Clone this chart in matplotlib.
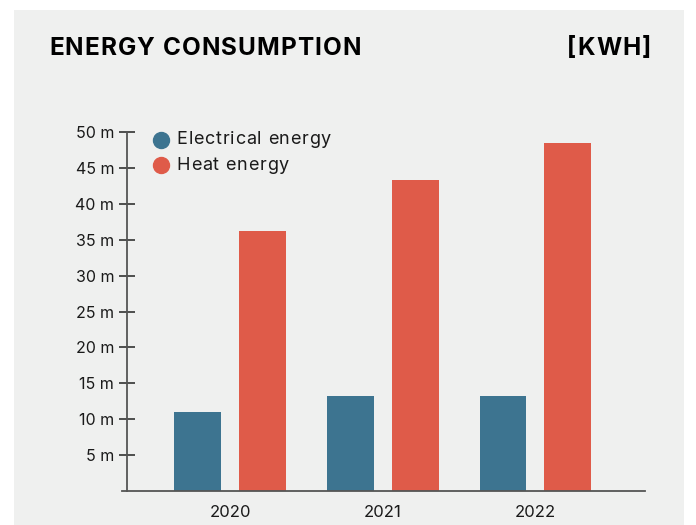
import matplotlib.pyplot as plt
from matplotlib.patches import Rectangle
import numpy as np

years = ['2020', '2021', '2022']
electrical = [11.0, 13.2, 13.2]
heat = [36.2, 43.3, 48.5]
yticks = [5, 10, 15, 20, 25, 30, 35, 40, 45, 50]
series_names = ['Electrical energy', 'Heat energy']

c_el = '#3d7490'
c_heat = '#df5b49'
bg = '#eff0ef'
ax_col = '#555555'
txt = '#1a1a1a'

plt.rcParams['font.family'] = ['Inter', 'DejaVu Sans']

W, H = 696, 525
fig = plt.figure(figsize=(W/100, H/100), dpi=100)
fig.patch.set_facecolor('white')
fig.patches.append(Rectangle((14/W, 0), (684-14)/W, (H-10)/H, transform=fig.transFigure,
                             facecolor=bg, edgecolor='none', zorder=-10))
renderer = fig.canvas.get_renderer()


def text_w(s, size, **kw):
    t = fig.text(0, 0, s, fontsize=size, **kw)
    w = t.get_window_extent(renderer).width
    t.remove()
    return w


def spaced_text(x0, y, s, size, track, right=False, **kw):
    # letters placed one by one (pixel coords from top-left) with extra tracking
    ref = text_w('I', size, **kw)
    pos = [0.0] + [text_w(s[:i] + 'I', size, **kw) - ref for i in range(1, len(s))]
    pos = [p + track * i for i, p in enumerate(pos)]
    total = text_w(s, size, **kw) + track * (len(s) - 1)
    start = x0 - total if right else x0
    for ch, p in zip(s, pos):
        if ch != ' ':
            fig.text((start + p)/W, 1 - y/H, ch, fontsize=size, va='center', ha='left', **kw)


ax = fig.add_axes([122/W, 34/H, (645-122)/W, (491-132)/H])
ax.set_facecolor('none')

x = np.arange(len(years))
bw = 0.308
off = 0.213
ax.bar(x - off, electrical, bw, color=c_el, zorder=2)
ax.bar(x + off, heat, bw, color=c_heat, zorder=2)

ax.set_xlim(-0.711, 2.718)
ax.set_ylim(0, 50)

for s in ['top', 'right']:
    ax.spines[s].set_visible(False)
ax.spines['bottom'].set_color(ax_col)
ax.spines['bottom'].set_linewidth(1.3)
ax.spines['left'].set_color(ax_col)
ax.spines['left'].set_linewidth(1.3)
ax.spines['left'].set_position(('data', -0.679))
ax.spines['left'].set_bounds(0, 50)

ax.set_yticks(yticks)
ax.set_yticklabels([f'{v} m' for v in yticks])
ax.tick_params(axis='y', direction='inout', length=12, width=1.1, color='#222222',
               labelsize=11.5, labelcolor=txt, pad=3.2)
ax.set_xticks(x)
ax.set_xticklabels(years)
ax.tick_params(axis='x', length=0, labelsize=12, labelcolor=txt, pad=10)

# legend drawn by hand
for i, (name, col) in enumerate(zip(series_names, [c_el, c_heat])):
    yy = 139.5 + 25.5 * i
    fig.lines.append(plt.Line2D([161/W], [1 - yy/H], marker='o', ls='none', color=col,
                                markersize=11.5, transform=fig.transFigure))
    spaced_text(176.5, yy, name, 13, 0.75, color=txt)

spaced_text(49, 48.5, 'ENERGY CONSUMPTION', 17.5, 1.1, color='black', fontweight='bold')
spaced_text(651, 48.5, '[KWH]', 17.5, 1.1, right=True, color='black', fontweight='bold')

fig.savefig('out.png', dpi=100)
